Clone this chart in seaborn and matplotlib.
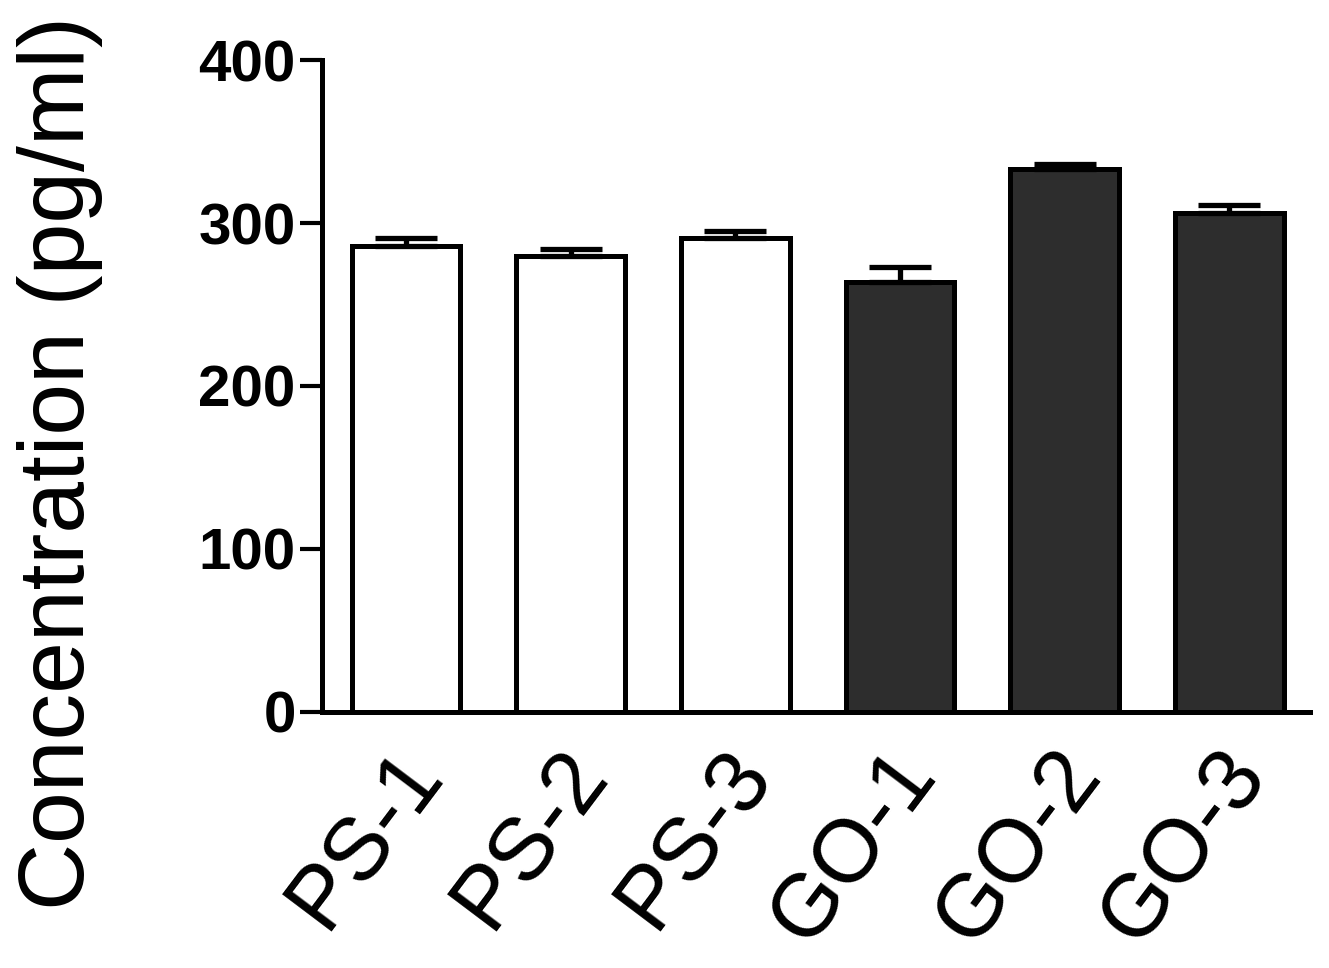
import seaborn as sns
import matplotlib.pyplot as plt
import matplotlib.transforms as mtransforms
import pandas as pd

# dados
amostras = ['PS-1', 'PS-2', 'PS-3', 'GO-1', 'GO-2', 'GO-3']
grupos = ['PS', 'PS', 'PS', 'GO', 'GO', 'GO']
concentracao = [286, 280, 291, 264, 333, 306]
erro = [5, 4, 4, 9, 3, 5]

sns.set_theme(style="ticks")
plt.rcParams['font.family'] = ['Liberation Sans', 'DejaVu Sans']
plt.rcParams['text.color'] = 'black'
plt.rcParams['xtick.color'] = 'black'
plt.rcParams['ytick.color'] = 'black'

df = pd.DataFrame({'amostra': amostras, 'grupo': grupos, 'conc': concentracao})

fig = plt.figure(figsize=(13.29, 9.68), dpi=100)
ax = fig.add_axes([0.2423, 0.2645, 0.7434, 0.6735])

sns.barplot(data=df, x='amostra', y='conc', hue='grupo',
            palette={'PS': 'white', 'GO': '#2d2d2d'}, dodge=False,
            width=0.66, edgecolor='black', linewidth=3.6, legend=False, ax=ax)

# só a barra de erro de cima (SEM)
ax.errorbar(range(len(amostras)), concentracao, yerr=[[0] * len(erro), erro],
            fmt='none', ecolor='black', elinewidth=3.8, capsize=22, capthick=3.8, zorder=5)

ax.set_xlim(-0.51, 5.49)
ax.set_ylim(0, 400)
ax.set_yticks([0, 100, 200, 300, 400])
ax.set_xlabel('')
ax.set_ylabel('')

sns.despine(ax=ax)
for lado in ['left', 'bottom']:
    ax.spines[lado].set_linewidth(3.6)
    ax.spines[lado].set_color('black')

ax.tick_params(axis='y', length=16, width=3, labelsize=42, pad=3, labelcolor='black')
ax.tick_params(axis='x', length=0, labelsize=64, pad=16, labelcolor='black')
for t in ax.get_yticklabels():
    t.set_fontweight('bold')
desloca = mtransforms.ScaledTranslation(-14 / 100, 0, fig.dpi_scale_trans)
for t in ax.get_xticklabels():
    t.set_rotation(53)
    t.set_ha('right')
    t.set_rotation_mode('anchor')
    t.set_transform(t.get_transform() + desloca)

fig.text(60 / 1329, 1 - 463 / 968, 'Concentration (pg/ml)', rotation=90,
         ha='center', va='center', fontsize=67, color='black')

plt.savefig('out.png', dpi=100)
